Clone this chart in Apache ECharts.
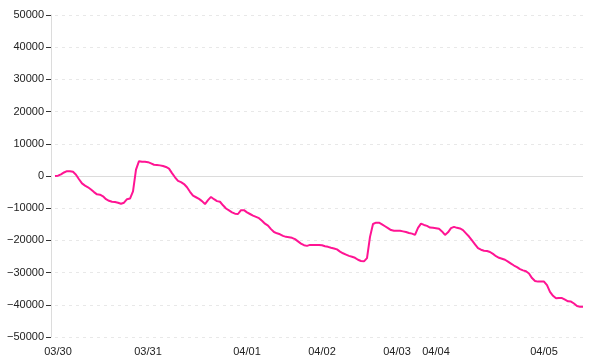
<!DOCTYPE html>
<html>
<head>
<meta charset="utf-8">
<script src="https://cdn.jsdelivr.net/npm/echarts@6/dist/echarts.min.js"></script>
<style>html,body{margin:0;padding:0;background:#fff}#c{width:600px;height:360px}</style>
</head>
<body>
<div id="c"></div>
<script>
var dayLabels = ['03/30','03/31','04/01','04/02','04/03','04/04','04/05'];
var dayStartIndex = [1, 31, 64, 89, 114, 127, 163];
var yTicks = [-50000,-40000,-30000,-20000,-10000,0,10000,20000,30000,40000,50000];
var values = [
0,100,500,1100,1500,1500,1300,400,-1000,-2300,
-3000,-3500,-4200,-5000,-5700,-5800,-6300,-7200,-7700,-8000,
-8100,-8300,-8600,-8300,-7200,-7000,-4800,2000,4600,4400,
4400,4300,3900,3500,3400,3300,3100,2800,2300,900,
-400,-1500,-1900,-2500,-3500,-4900,-6100,-6600,-7100,-7800,
-8700,-7500,-6500,-7200,-7800,-8000,-9100,-10100,-10700,-11300,
-11700,-11800,-10600,-10600,-11300,-11800,-12300,-12700,-13100,-13900,
-14800,-15400,-16500,-17400,-17800,-18100,-18600,-18900,-19000,-19200,
-19600,-20300,-21000,-21500,-21700,-21400,-21400,-21400,-21400,-21500,
-21800,-22000,-22300,-22500,-22800,-23500,-24000,-24400,-24800,-25100,
-25400,-26000,-26400,-26500,-25500,-18900,-14900,-14500,-14500,-15000,
-15600,-16200,-16800,-17000,-17000,-17000,-17200,-17400,-17700,-17900,
-18300,-16100,-14800,-15200,-15500,-16000,-16100,-16200,-16400,-17200,
-18300,-17500,-16200,-15800,-16100,-16300,-16800,-17800,-18800,-20000,
-21200,-22400,-22900,-23200,-23300,-23600,-24200,-24900,-25400,-25700,
-26000,-26600,-27200,-27800,-28300,-28900,-29300,-29600,-30300,-31700,
-32600,-32800,-32800,-32800,-33900,-36000,-37200,-38000,-37900,-37900,
-38400,-38900,-39000,-39600,-40400,-40600,-40600
];
// category per point: the day it belongs to
var categories = [];
for (var i = 0; i < values.length; i++) {
  var d = '';
  for (var k = 0; k < dayStartIndex.length; k++) { if (i >= dayStartIndex[k]) d = dayLabels[k]; }
  categories.push(d === '' ? '03/29' : d);
}
var chart = echarts.init(document.getElementById('c'), null, {renderer: 'canvas'});
chart.setOption({
  animation: false,
  grid: {left: 55, right: 17, top: 15, bottom: 23},
  xAxis: {
    type: 'category',
    data: categories,
    boundaryGap: false,
    axisLine: {show: false, onZero: false},
    axisTick: {show: false},
    splitLine: {show: false},
    axisLabel: {
      margin: 9,
      color: '#222',
      fontFamily: 'Liberation Sans',
      fontSize: 11,
      hideOverlap: false,
      interval: function (idx) { return dayStartIndex.indexOf(idx) >= 0; }
    }
  },
  yAxis: {
    type: 'value',
    min: yTicks[0],
    max: yTicks[yTicks.length - 1],
    interval: 10000,
    offset: 4,
    axisLine: {show: true, lineStyle: {color: '#dcdcdc', width: 1}},
    axisTick: {show: true, length: 5, lineStyle: {color: '#333'}},
    axisLabel: {
      margin: 7,
      color: '#222',
      fontFamily: 'Liberation Sans',
      fontSize: 11,
      formatter: function (v) { return String(v).replace('-', '\u2212'); }
    },
    splitLine: {show: true, lineStyle: {color: '#e8e8e8', type: [3, 4], width: 1}}
  },
  series: [{
    type: 'line',
    data: values,
    showSymbol: false,
    symbol: 'none',
    lineStyle: {color: '#ff1493', width: 2},
    itemStyle: {color: '#ff1493'},
    markLine: {
      silent: true,
      symbol: 'none',
      label: {show: false},
      lineStyle: {color: '#dcdcdc', type: 'solid', width: 1},
      data: [{yAxis: 0}],
      z: 1
    }
  }]
});
</script>
</body>
</html>
